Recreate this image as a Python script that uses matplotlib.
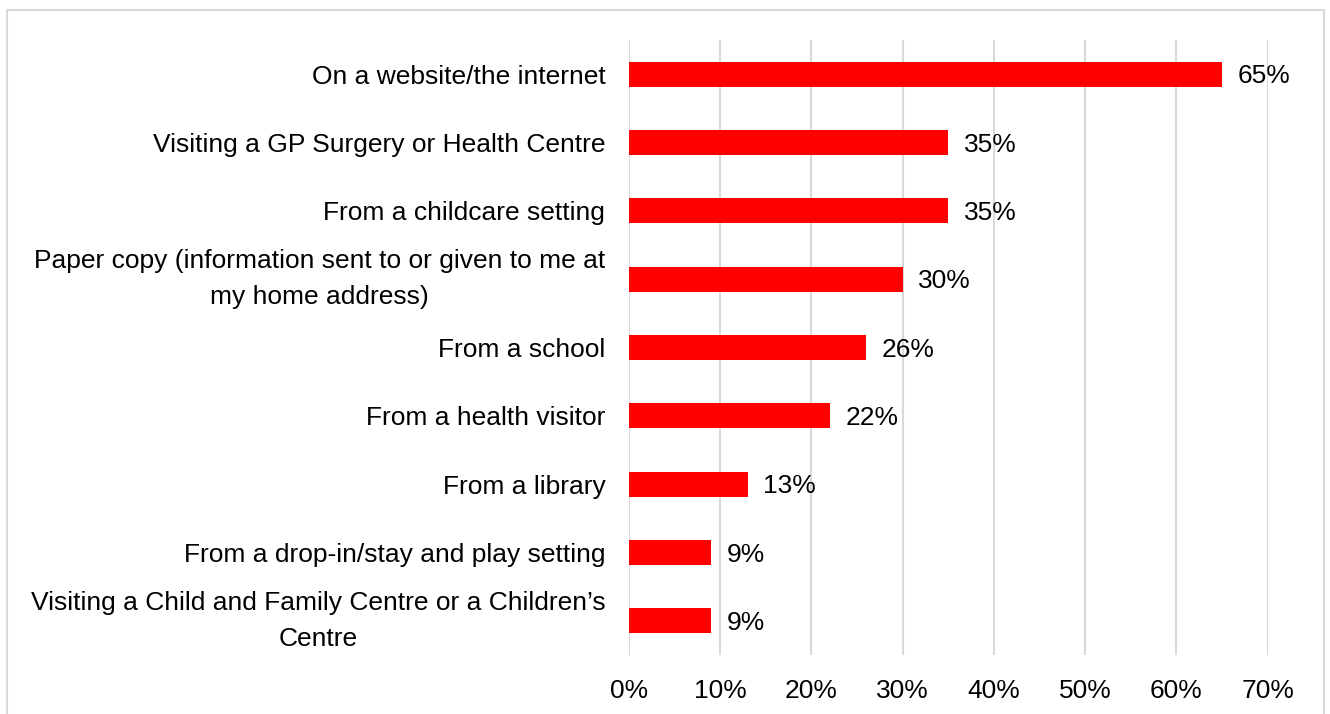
import matplotlib
matplotlib.use("Agg")
import matplotlib.pyplot as plt
from matplotlib.patches import Rectangle

plt.rcParams['font.family'] = ['Liberation Sans', 'DejaVu Sans']

categories = [
    "On a website/the internet",
    "Visiting a GP Surgery or Health Centre",
    "From a childcare setting",
    "Paper copy (information sent to or given to me at\nmy home address)",
    "From a school",
    "From a health visitor",
    "From a library",
    "From a drop-in/stay and play setting",
    "Visiting a Child and Family Centre or a Children\u2019s\nCentre",
]
values = [65, 35, 35, 30, 26, 22, 13, 9, 9]
xticks = [0, 10, 20, 30, 40, 50, 60, 70]
xtick_labels = [f"{t}%" for t in xticks]

FS = 19

fig = plt.figure(figsize=(13.30, 7.14), dpi=100)
ax = fig.add_axes([0.4729, 0.0826, 0.4803, 0.8614])

ypos = list(range(len(categories)))
bars = ax.barh(ypos, values, height=0.365, color="#ff0000", zorder=3)
ax.set_ylim(len(categories) - 0.5, -0.5)
ax.set_xlim(0, 70)

ax.set_yticks(ypos)
ax.set_yticklabels(categories, fontsize=FS, color="#000000", linespacing=1.6)
for lbl in ax.get_yticklabels():
    lbl.set_multialignment("center")
    if "\n" in lbl.get_text():
        lbl.set_verticalalignment("center")
ax.set_xticks(xticks)
ax.set_xticklabels(xtick_labels, fontsize=FS, color="#000000")
ax.tick_params(axis="y", length=0, pad=17)
ax.tick_params(axis="x", length=0, pad=17)

for bar, v in zip(bars, values):
    ax.text(bar.get_width() + 1.7, bar.get_y() + bar.get_height() / 2 + 0.03,
            f"{v}%", va="center", ha="left", fontsize=FS, color="#000000")

ax.grid(axis="x", color="#d9d9d9", linewidth=1.5, zorder=0)
for s in ax.spines.values():
    s.set_visible(False)

# light outer frame around the chart
fig.patches.append(Rectangle((7 / 1330, -0.01), (1324 - 7) / 1330, 1 - 10.5 / 714 + 0.01,
                             transform=fig.transFigure, fill=False,
                             edgecolor="#d9d9d9", linewidth=1.5))

fig.savefig("out.png", dpi=100)
